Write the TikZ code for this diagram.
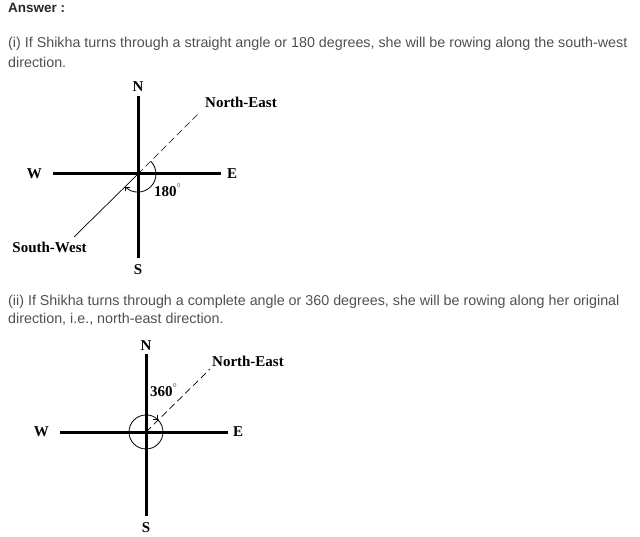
\documentclass[tikz,border=0pt]{standalone}
\usepackage{fontspec}
\setmainfont{Liberation Serif}
\newfontfamily\parafont{Liberation Sans}
\usetikzlibrary{arrows.meta, positioning}
\definecolor{txtgray}{RGB}{80,80,80}
\definecolor{headgray}{RGB}{40,40,40}
\newcommand{\degmark}{\raisebox{9pt}{\fontsize{8}{8}\selectfont$\circ$}}

\begin{document}
\begin{tikzpicture}[
        x=1pt, y=-1pt,
        para/.style={anchor=base west, inner sep=0pt, text=txtgray, font=\parafont\fontsize{14.3}{17}\selectfont},
        lbl/.style={inner sep=0pt, font=\bfseries\fontsize{15}{18}\selectfont},
        axisline/.style={line width=3pt},
        thinray/.style={line width=0.7pt},
        dashray/.style={line width=0.7pt, dash pattern=on 7pt off 4pt},
        anglearc/.style={line width=0.8pt, -{Straight Barb[length=3pt, width=6pt]}}
        ]
        \useasboundingbox (0,0) rectangle (640,537);

        % text
        \node[para, text=headgray, font=\parafont\bfseries\fontsize{13.5}{16}\selectfont] (ans) at (8,12.5) {Answer :};
        \node[para] (t1a) at (8,48) {(i) If Shikha turns through a straight angle or 180 degrees, she will be rowing along the south-west};
        \node[para] (t1b) at (8,68) {direction.};
        \node[para] (t2a) at (8,305.5) {(ii) If Shikha turns through a complete angle or 360 degrees, she will be rowing along her original};
        \node[para] (t2b) at (8,324) {direction, i.e., north-east direction.};

        % first compass
        \coordinate (c1) at (138,174);
        \coordinate (n1) at (138,96);
        \coordinate (s1) at (138,258);
        \coordinate (w1) at (53,174);
        \coordinate (e1) at (221,174);
        \coordinate (ne1) at (200,112);
        \coordinate (sw1) at (74,237);
        \draw[axisline] (n1) -- (s1);
        \draw[axisline] (w1) -- (e1);
        \draw[dashray] (c1) -- (ne1);
        \draw[thinray] (c1) -- (sw1);
        \draw[anglearc] ([shift={(-45:18)}]c1) arc[start angle=-45, end angle=135, radius=18];
        \node[lbl, above=4pt of n1] (N1) {N};
        \node[lbl, below=6pt of s1] (S1) {S};
        \node[lbl, left=11pt of w1] (W1) {W};
        \node[lbl, right=6pt of e1] (E1) {E};
        \node[lbl] (NE1) at (241,102) {North-East};
        \node[lbl] (SW1) at (49.5,247.5) {South-West};
        \node[lbl, anchor=base west] (ang1) at (154,197) {180\degmark};

        % second compass
        \coordinate (c2) at (146,432);
        \coordinate (n2) at (146,354);
        \coordinate (s2) at (146,516);
        \coordinate (w2) at (60,432);
        \coordinate (e2) at (228,432);
        \coordinate (ne2) at (210,369);
        \draw[axisline] (n2) -- (s2);
        \draw[axisline] (w2) -- (e2);
        \draw[dashray] (c2) -- (ne2);
        \draw[anglearc] ([shift={(-45:17)}]c2) arc[start angle=-45, end angle=315, radius=17];
        \node[lbl, above=3pt of n2] (N2) {N};
        \node[lbl, below=6pt of s2] (S2) {S};
        \node[lbl, left=11pt of w2] (W2) {W};
        \node[lbl, right=5pt of e2] (E2) {E};
        \node[lbl] (NE2) at (248,361) {North-East};
        \node[lbl, anchor=base west] (ang2) at (150,396.5) {360\degmark};
    \end{tikzpicture}
\end{document}
